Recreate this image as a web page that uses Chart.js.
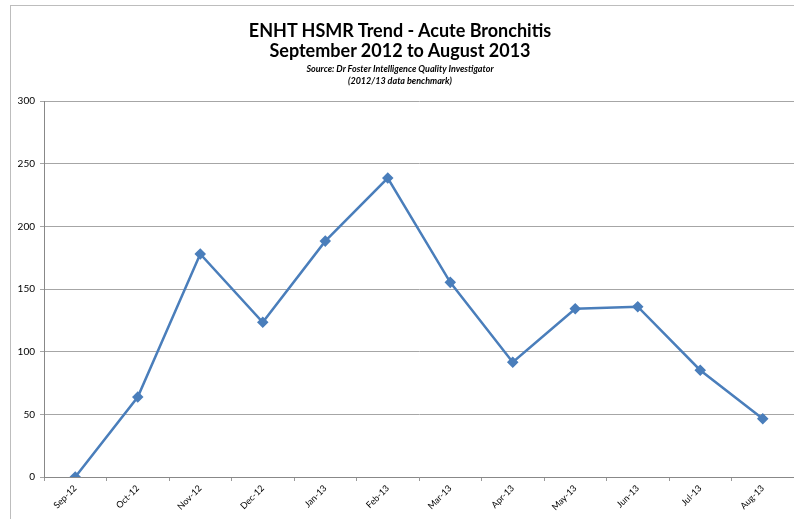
<!DOCTYPE html>
<html>
<head>
<meta charset="utf-8">
<script src="https://cdn.jsdelivr.net/npm/chart.js@4"></script>
<style>
  body { margin: 0; background: #fff; }
  #wrap { position: relative; width: 794px; height: 519px; overflow: hidden; font-family: Lato, "Open Sans", sans-serif; }
  #frame { position: absolute; left: 10px; top: 5px; width: 800px; height: 520px; border-left: 1px solid #bdbdbd; border-top: 1px solid #bdbdbd; }
  #grafico { position: absolute; left: 0; top: 0; }
  .t { position: absolute; left: 0; width: 800px; text-align: center; color: #000; }
  .t1 { font-weight: bold; font-size: 18px; }
  .t2 { font-weight: bold; font-style: italic; font-size: 9px; }
</style>
</head>
<body>
<div id="wrap">
  <div id="frame"></div>
  <canvas id="grafico" width="794" height="519"></canvas>
  <div class="t t1" style="top:19px">ENHT HSMR Trend - Acute Bronchitis</div>
  <div class="t t1" style="top:39px">September 2012 to August 2013</div>
  <div class="t t2" style="top:63px">Source: Dr Foster Intelligence Quality Investigator</div>
  <div class="t t2" style="top:75px">(2012/13 data benchmark)</div>
</div>
<script>
// Dados do gráfico
const meses = ['Sep-12', 'Oct-12', 'Nov-12', 'Dec-12', 'Jan-13', 'Feb-13',
               'Mar-13', 'Apr-13', 'May-13', 'Jun-13', 'Jul-13', 'Aug-13'];
const hsmr = [0, 63.8, 178, 123.4, 188.2, 238.5, 155.3, 91.6, 134.3, 135.9, 85.2, 46.5];
const eixoY = { min: 0, max: 300, passo: 50 };

const ctx = document.getElementById('grafico').getContext('2d');

new Chart(ctx, {
    type: 'line',
    data: {
        labels: meses,
        datasets: [{
            label: 'HSMR',
            data: hsmr,
            borderColor: '#4a7ebb',
            backgroundColor: '#4a7ebb',
            borderWidth: 2.5,
            pointStyle: 'rectRot',
            pointRadius: 4,
            pointHoverRadius: 4,
            tension: 0
        }]
    },
    options: {
        responsive: false,
        animation: false,
        layout: { autoPadding: false, padding: { top: 101, right: 0, bottom: 0, left: 0 } },
        plugins: {
            legend: { display: false },
            tooltip: { enabled: false }
        },
        scales: {
            x: {
                offset: true,
                afterFit: (scale) => {
                    scale.height = 42;
                    scale.paddingLeft = 0;
                    scale.paddingRight = 0;
                },
                grid: {
                    offset: true,
                    drawOnChartArea: false,
                    drawTicks: true,
                    tickLength: 4,
                    color: '#999'
                },
                border: { color: '#888', width: 1 },
                ticks: {
                    autoSkip: false,
                    maxRotation: 45,
                    minRotation: 45,
                    padding: 2,
                    color: '#000',
                    font: { family: 'Lato, "Open Sans", sans-serif', size: 9 }
                }
            },
            y: {
                min: eixoY.min,
                max: eixoY.max,
                afterFit: (scale) => { scale.width = 44; },
                grid: {
                    color: '#a6a6a6',
                    tickLength: 4,
                    lineWidth: 1
                },
                border: { color: '#888', width: 1 },
                ticks: {
                    stepSize: eixoY.passo,
                    padding: 5,
                    color: '#000',
                    font: { family: 'Lato, "Open Sans", sans-serif', size: 10 }
                }
            }
        }
    }
});
</script>
</body>
</html>
